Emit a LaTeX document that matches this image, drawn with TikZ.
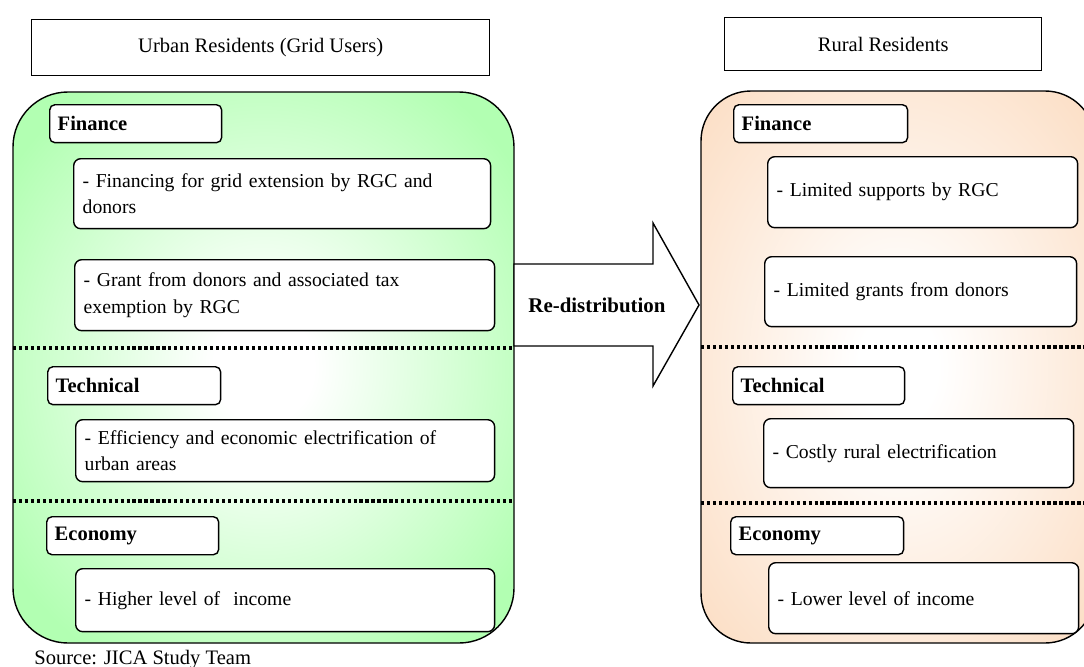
\documentclass[tikz,border=0pt]{standalone}
\usepackage{fontspec}
\setmainfont{Liberation Serif}
\usepackage{xcolor}
\definecolor{urbangreen}{RGB}{178,255,178}
\definecolor{ruralpeach}{RGB}{252,224,200}
\pgfdeclareradialshading{urbanglow}{\pgfpoint{0bp}{0bp}}{color(0bp)=(white); color(5bp)=(white); color(31bp)=(urbangreen); color(50bp)=(urbangreen)}
\pgfdeclareradialshading{ruralglow}{\pgfpoint{0bp}{0bp}}{color(0bp)=(white); color(5bp)=(white); color(33bp)=(ruralpeach); color(50bp)=(ruralpeach)}

\begin{document}
\begin{tikzpicture}[x=0.02cm,y=-0.02cm,
  every node/.style={font=\fontsize{11.7}{15.3}\selectfont},
  headbox/.style={draw,line width=0.8pt,anchor=north west,inner sep=0pt},
  labelbox/.style={draw,line width=0.8pt,rounded corners=3pt,fill=white,anchor=north west,minimum height=0.76cm,inner xsep=0.16cm,inner ysep=0pt,align=left,font=\fontsize{11.7}{15.3}\selectfont\bfseries},
  itembox/.style={draw,line width=0.8pt,rounded corners=4pt,fill=white,anchor=north west,inner xsep=0.18cm,inner ysep=0pt,align=left,font=\fontsize{11.2}{15.3}\selectfont},
  divider/.style={line width=2pt,dash pattern=on 1.8pt off 1.6pt}]
\useasboundingbox (0,0) rectangle (1084,666);

\shadedraw[line width=0.8pt,rounded corners=1.1cm,shading=urbanglow] (13,92) rectangle (514,643);
\shadedraw[line width=0.8pt,rounded corners=1cm,shading=ruralglow] (701,91) rectangle (1095,643);
\draw[divider] (13,348) -- (514,348);
\draw[divider] (13,501) -- (514,501);
\draw[divider] (701,347) -- (1095,347);
\draw[divider] (701,503) -- (1095,503);

\node[headbox,minimum width=9.16cm,minimum height=1.12cm] (urbanhead) at (31,19) {Urban Residents (Grid Users)};
\node[headbox,minimum width=6.34cm,minimum height=1.06cm] (ruralhead) at (724,17) {Rural Residents};

\node[labelbox,text width=3.12cm] (ufin) at (49,104) {Finance};
\node[itembox,text width=7.98cm,minimum height=1.4cm] (ufin1) at (73,158) {- Financing for grid extension by RGC and\\donors};
\node[itembox,text width=8.04cm,minimum height=1.42cm] (ufin2) at (74,259) {- Grant from donors and associated tax\\exemption by RGC};
\node[labelbox,text width=3.14cm] (utech) at (47,366) {Technical};
\node[itembox,text width=8.02cm,minimum height=1.24cm] (utech1) at (75,419) {- Efficiency and economic electrification of\\urban areas};
\node[labelbox,text width=3.12cm] (uecon) at (46,516) {Economy};
\node[itembox,text width=8.02cm,minimum height=1.26cm] (uecon1) at (75,568) {- Higher level of~ income};

\node[labelbox,text width=3.16cm] (rfin) at (733,104) {Finance};
\node[itembox,text width=5.84cm,minimum height=1.42cm] (rfin1) at (767,156) {- Limited supports by RGC};
\node[itembox,text width=5.88cm,minimum height=1.4cm] (rfin2) at (764,256) {- Limited grants from donors};
\node[labelbox,text width=3.12cm] (rtech) at (732,366) {Technical};
\node[itembox,text width=5.84cm,minimum height=1.38cm] (rtech1) at (763,418) {- Costly rural electrification};
\node[labelbox,text width=3.14cm] (recon) at (730,516) {Economy};
\node[itembox,text width=5.84cm,minimum height=1.42cm] (recon1) at (768,562) {- Lower level of income};

\draw[line width=0.8pt,fill=white] (514,264) -- (653,264) -- (653,223) -- (699,305) -- (653,386) -- (653,346) -- (514,346) -- cycle;
\node[font=\fontsize{11.9}{15.3}\selectfont\bfseries] (redist) at (597,305) {Re-distribution};

\node[anchor=base west,inner sep=0pt] (source) at (34,664) {Source: JICA Study Team};
\end{tikzpicture}
\end{document}
